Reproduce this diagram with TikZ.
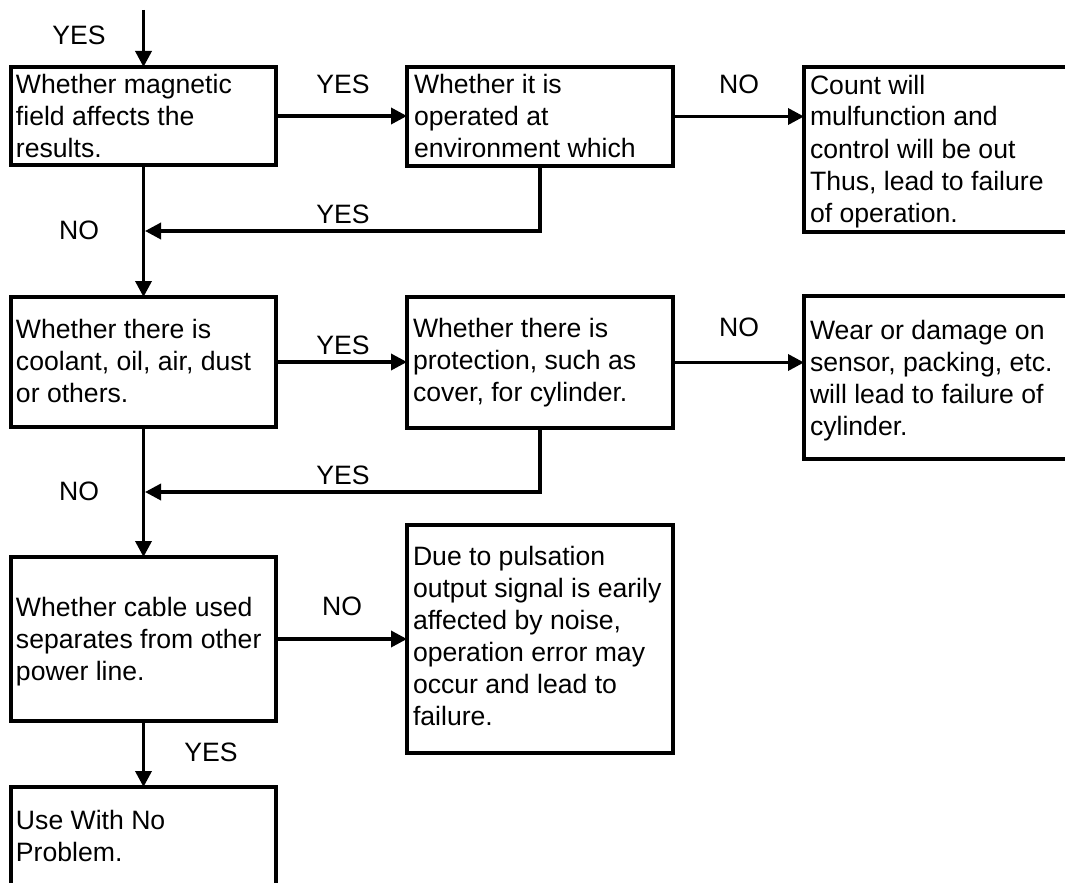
\documentclass[tikz,border=0pt]{standalone}
\usepackage{fontspec}
\setmainfont{Liberation Sans}
\usetikzlibrary{arrows.meta}
\newcommand{\mltext}[1]{\parbox[t]{300pt}{\raggedright\fontsize{26.6pt}{32pt}\selectfont #1}}
\begin{document}
\begin{tikzpicture}[x=1pt,y=-1pt,
  box/.style={draw, line width=3.5pt, anchor=north west, inner sep=0pt, outer sep=0pt},
  txt/.style={anchor=base west, inner sep=0pt, outer sep=0pt},
  lab/.style={inner sep=0pt, font=\fontsize{26.6pt}{32pt}\selectfont},
  arr/.style={line width=3.5pt, -{Triangle[length=16pt,width=16pt]}}]
\useasboundingbox (0,0) rectangle (1065,883);
\clip (0,0) rectangle (1065,883);
% boxes
\node[box, minimum width=265pt, minimum height=98pt]  (b1) at (11,67) {};
\node[box, minimum width=266pt, minimum height=99pt]  (b2) at (407,67) {};
\node[box, minimum width=280pt, minimum height=165pt] (b3) at (804,67) {};
\node[box, minimum width=265pt, minimum height=130pt] (b4) at (11,297) {};
\node[box, minimum width=266pt, minimum height=131pt] (b5) at (407,297) {};
\node[box, minimum width=280pt, minimum height=163pt] (b6) at (804,296) {};
\node[box, minimum width=265pt, minimum height=164pt] (b7) at (11,557) {};
\node[box, minimum width=266pt, minimum height=228pt] (b8) at (407,525) {};
\node[box, minimum width=265pt, minimum height=120pt] (b9) at (11,787) {};
% texts
\node[txt] (t1) at (16,93) {\mltext{Whether magnetic\\field affects the\\results.}};
\node[txt] (t2) at (414,93) {\mltext{Whether it is\\operated at\\environment which}};
\node[txt] (t3) at (810,94) {\mltext{Count will\\mulfunction and\\control will be out\\Thus, lead to failure\\of operation.}};
\node[txt] (t4) at (16,338) {\mltext{Whether there is\\coolant, oil, air, dust\\or others.}};
\node[txt] (t5) at (413,337) {\mltext{Whether there is\\protection, such as\\cover, for cylinder.}};
\node[txt] (t6) at (810,339) {\mltext{Wear or damage on\\sensor, packing, etc.\\will lead to failure of\\cylinder.}};
\node[txt] (t7) at (16,616) {\mltext{Whether cable used\\separates from other\\power line.}};
\node[txt] (t8) at (413,565) {\mltext{Due to pulsation\\output signal is earily\\affected by noise,\\operation error may\\occur and lead to\\failure.}};
\node[txt] (t9) at (16,829) {\mltext{Use With No\\Problem.}};
% labels
\node[lab] (l1) at (79,35) {YES};
\node[lab] (l2) at (343,84) {YES};
\node[lab] (l3) at (739,84) {NO};
\node[lab] (l4) at (343,214) {YES};
\node[lab] (l5) at (79,230) {NO};
\node[lab] (l6) at (343,345) {YES};
\node[lab] (l7) at (739,327) {NO};
\node[lab] (l8) at (343,475) {YES};
\node[lab] (l9) at (79,491) {NO};
\node[lab] (l10) at (342,606) {NO};
\node[lab] (l11) at (211,752) {YES};
% connectors
\coordinate (top) at (143.5,10);
\coordinate (m1) at (145,231);
\coordinate (m2) at (145,492);
\draw[arr] (top) -- (b1.north);
\draw[arr] (b1.east) -- (b1.east -| b2.west);
\draw[arr] (b2.east) -- (b2.east -| b3.west);
\draw[arr] (b2.south) |- (m1);
\draw[arr] (b1.south) -- (b4.north);
\draw[arr] (b4.east) -- (b4.east -| b5.west);
\draw[arr] (b5.east) -- (b5.east -| b6.west);
\draw[arr] (b5.south) |- (m2);
\draw[arr] (b4.south) -- (b7.north);
\draw[arr] (b7.east) -- (b7.east -| b8.west);
\draw[arr] (b7.south) -- (b9.north);
\end{tikzpicture}
\end{document}
